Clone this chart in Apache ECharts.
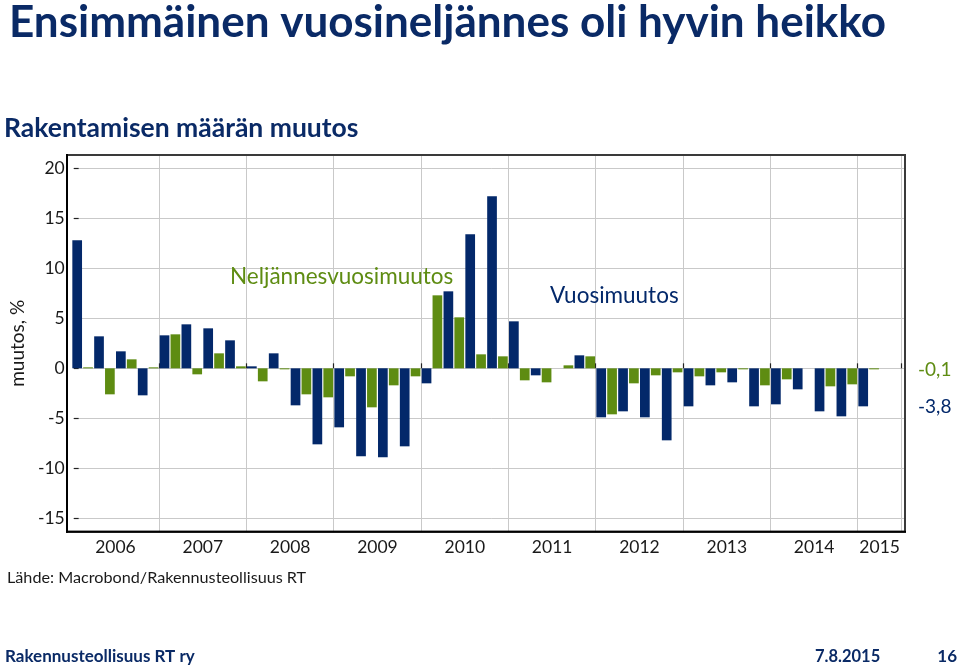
<!DOCTYPE html>
<html>
<head>
<meta charset="utf-8">
<script src="https://cdn.jsdelivr.net/npm/echarts@6/dist/echarts.min.js"></script>
<style>
  html, body { margin: 0; padding: 0; background: #fff; }
  #main { width: 960px; height: 668px; }
</style>
</head>
<body>
<div id="main"></div>
<script>
// neljännekset 2006Q1 - 2015Q2
var quarters = [
  '2006Q1','2006Q2','2006Q3','2006Q4','2007Q1','2007Q2','2007Q3','2007Q4',
  '2008Q1','2008Q2','2008Q3','2008Q4','2009Q1','2009Q2','2009Q3','2009Q4',
  '2010Q1','2010Q2','2010Q3','2010Q4','2011Q1','2011Q2','2011Q3','2011Q4',
  '2012Q1','2012Q2','2012Q3','2012Q4','2013Q1','2013Q2','2013Q3','2013Q4',
  '2014Q1','2014Q2','2014Q3','2014Q4','2015Q1','2015Q2'
];
// vuosimuutos, %
var vuosimuutos = [
  12.8, 3.2, 1.7, -2.7, 3.3, 4.4, 4.0, 2.8,
  0.2, 1.5, -3.7, -7.6, -5.9, -8.8, -8.9, -7.8,
  -1.5, 7.7, 13.4, 17.2, 4.7, -0.7, 0.0, 1.3,
  -4.9, -4.3, -4.9, -7.2, -3.8, -1.7, -1.4, -3.8,
  -3.6, -2.1, -4.3, -4.8, -3.8, null
];
// neljännesvuosimuutos, %
var neljannes = [
  0.1, -2.6, 0.9, 0.1, 3.4, -0.6, 1.5, 0.2,
  -1.3, -0.1, -2.6, -2.9, -0.8, -3.9, -1.7, -0.8,
  7.3, 5.1, 1.4, 1.2, -1.2, -1.4, 0.3, 1.2,
  -4.6, -1.5, -0.7, -0.4, -0.8, -0.4, -0.1, -1.7,
  -1.1, 0.0, -1.8, -1.6, -0.1, null
];
var yTicks = { min: -15, max: 20, step: 5 };

var NAVY = '#03286a';
var GREEN = '#5e8c12';
var TITLE = '#0a2a66';
var FONT = 'Lato';

var chart = echarts.init(document.getElementById('main'), null, { renderer: 'canvas' });

function yearTick(index) {
  return index > 0 && index % 4 === 0;
}
function yearLabel(index) {
  // vuoden keskelle, 2015 vain kaksi neljännestä
  return (index % 4 === 1 && index < 36) || index === 36;
}

var option = {
  animation: false,
  backgroundColor: '#fff',
  grid: [
    { left: 71.7, top: 155, width: 829.7, height: 376.7 },
    { left: 67, top: 168.3, width: 838, height: 350 }
  ],
  xAxis: [
    {
      type: 'category',
      gridIndex: 0,
      data: quarters,
      axisLine: { show: false },
      axisTick: {
        show: true, inside: true, length: 5,
        interval: yearTick,
        lineStyle: { color: '#222', width: 1.2 }
      },
      splitLine: {
        show: true,
        interval: yearTick,
        lineStyle: { color: '#c9c9c9', width: 1 }
      },
      axisLabel: {
        interval: yearLabel,
        formatter: function (v) { return v.slice(0, 4); },
        padding: [0, 0, 0, 22],
        margin: 7,
        color: '#1a1a1a',
        fontFamily: FONT,
        fontSize: 17.5
      }
    },
    { type: 'value', gridIndex: 1, show: false, min: 0, max: 1 }
  ],
  yAxis: [
    {
      type: 'value', gridIndex: 0, show: false,
      min: yTicks.min - 1.337, max: yTicks.max + 1.333,
      splitLine: { show: false }
    },
    {
      type: 'value', gridIndex: 1,
      min: yTicks.min, max: yTicks.max, interval: yTicks.step,
      name: 'muutos, %',
      nameLocation: 'middle',
      nameRotate: 90,
      nameGap: 44,
      nameTextStyle: { color: '#1a1a1a', fontFamily: FONT, fontSize: 19 },
      axisLine: { show: false },
      axisTick: { show: true, length: 5, lineStyle: { color: '#222', width: 1.2 } },
      axisLabel: { color: '#1a1a1a', fontFamily: FONT, fontSize: 17.5, margin: 14 },
      splitLine: { show: true, lineStyle: { color: '#c9c9c9', width: 1 } }
    }
  ],
  series: [
    {
      name: 'Vuosimuutos',
      type: 'bar',
      xAxisIndex: 0, yAxisIndex: 0,
      data: vuosimuutos,
      barWidth: 9.7,
      barGap: '12%',
      itemStyle: { color: NAVY }
    },
    {
      name: 'Neljännesvuosimuutos',
      type: 'bar',
      xAxisIndex: 0, yAxisIndex: 0,
      data: neljannes,
      barWidth: 9.7,
      itemStyle: { color: GREEN }
    }
  ]
};
chart.setOption(option);

function lastValue(arr) {
  for (var i = arr.length - 1; i >= 0; i--) {
    if (arr[i] !== null) return arr[i];
  }
  return 0;
}
function fmt(v) {
  return v.toFixed(1).replace('.', ',');
}
var lastNelj = lastValue(neljannes);
var lastVuosi = lastValue(vuosimuutos);

function txt(text, x, y, size, color, weight, align) {
  return {
    type: 'text', x: x, y: y, silent: true, z: 10,
    style: {
      text: text, fill: color, fontFamily: FONT, fontSize: size,
      fontWeight: weight || 'normal', align: align || 'left', verticalAlign: 'middle'
    }
  };
}

chart.setOption({
  graphic: [
    // kehys
    { type: 'rect', shape: { x: 67, y: 155, width: 838, height: 376.7 },
      style: { fill: null, stroke: '#3a3a3a', lineWidth: 2 }, silent: true, z: 5 },
    { type: 'line', shape: { x1: 67, y1: 154, x2: 67, y2: 532.7 },
      style: { stroke: '#000', lineWidth: 2 }, silent: true, z: 6 },
    { type: 'line', shape: { x1: 66, y1: 531.7, x2: 906, y2: 531.7 },
      style: { stroke: '#000', lineWidth: 2 }, silent: true, z: 6 },
    txt('Ensimmäinen vuosineljännes oli hyvin heikko', 9, 23, 44, TITLE, 'bold'),
    txt('Rakentamisen määrän muutos', 4, 128, 26.5, TITLE, 'bold'),
    txt('Neljännesvuosimuutos', 230, 277, 22.5, GREEN),
    txt('Vuosimuutos', 550, 296, 22.5, NAVY),
    txt(fmt(lastNelj), 918, chart.convertToPixel({ yAxisIndex: 0 }, lastNelj) + 1, 19, GREEN),
    txt(fmt(lastVuosi), 918, chart.convertToPixel({ yAxisIndex: 0 }, lastVuosi) + 1, 19, NAVY),
    txt('Lähde: Macrobond/Rakennusteollisuus RT', 7, 578, 16.2, '#1a1a1a'),
    txt('Rakennusteollisuus RT ry', 5, 657, 17, TITLE, 'bold'),
    txt('7.8.2015', 815, 657, 16.5, TITLE, 'bold'),
    txt('16', 957, 657, 17, TITLE, 'bold', 'right')
  ]
});
</script>
</body>
</html>
